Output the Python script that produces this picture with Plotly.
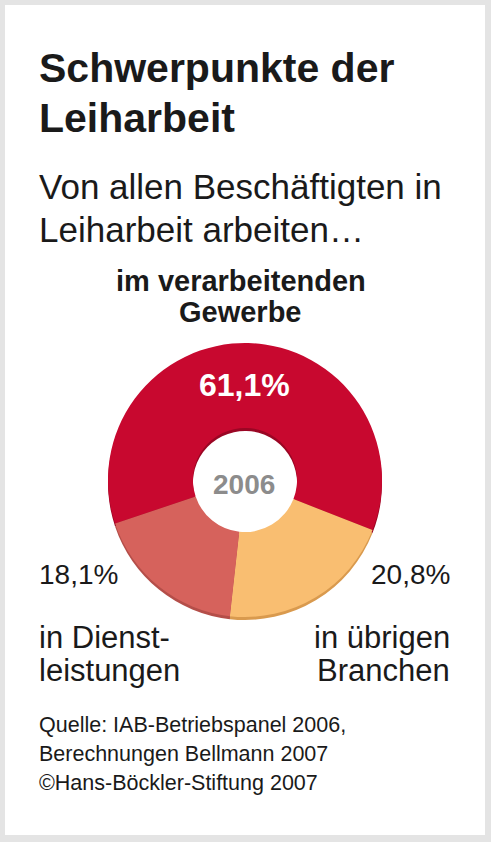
import plotly.graph_objects as go

# data
categories = ["im verarbeitenden Gewerbe", "in übrigen Branchen", "in Dienstleistungen"]
shares = [61.1, 20.8, 18.1]
year = "2006"

colors = ["#C8082F", "#F9BE71", "#D6625C"]
rim_colors = ["#9A0624", "#D99A4E", "#B44E49"]

W, H = 491, 842
FONT = "Liberation Sans, Arial, sans-serif"


def fmt(v):
    return f"{v:.1f}".replace(".", ",") + "%"


def px_x(x):
    return x / W


def base_y(baseline, size):
    # annotation box bottom sits under the baseline by the descent + pad
    return 1 - (baseline + 0.212 * size + 1) / H


# pie geometry (pixels)
cx, cy, r = 245, 480, 137
dom_x = [px_x(cx - r), px_x(cx + r)]
dom_y = [1 - (cy + r) / H, 1 - (cy - r) / H]
shift = 3 / H

fig = go.Figure()

# darker copy slightly lower, gives the flat 3d edge
fig.add_trace(
    go.Pie(
        labels=categories,
        values=shares,
        sort=False,
        direction="clockwise",
        rotation=251.5,
        hole=0.38,
        textinfo="none",
        hoverinfo="skip",
        marker=dict(colors=rim_colors, line=dict(width=0)),
        domain=dict(x=dom_x, y=[dom_y[0] - shift, dom_y[1] - shift]),
        showlegend=False,
    )
)
fig.add_trace(
    go.Pie(
        labels=categories,
        values=shares,
        sort=False,
        direction="clockwise",
        rotation=251.5,
        hole=0.38,
        textinfo="none",
        hovertemplate="%{label}: %{value}%<extra></extra>",
        marker=dict(colors=colors, line=dict(width=0)),
        domain=dict(x=dom_x, y=dom_y),
        showlegend=False,
    )
)

annotations = []


def add_text(text, x, baseline, size, anchor="left", bold=False, color="#1a1a1a"):
    annotations.append(
        dict(
            text=f"<b>{text}</b>" if bold else text,
            x=px_x(x),
            y=base_y(baseline, size),
            xref="paper",
            yref="paper",
            xanchor=anchor,
            yanchor="bottom",
            showarrow=False,
            font=dict(family=FONT, size=size, color=color),
        )
    )


# title and subtitle
add_text("Schwerpunkte der", 37, 83, 41, bold=True)
add_text("Leiharbeit", 37, 133, 41, bold=True)
add_text("Von allen Beschäftigten in", 37, 200, 35)
add_text("Leiharbeit arbeiten…", 37, 243, 35)

# slice labels
add_text("im verarbeitenden", 240.5, 292, 29, anchor="center", bold=True)
add_text("Gewerbe", 240.5, 323, 29, anchor="center", bold=True)
add_text(fmt(shares[0]), 244, 397, 32, anchor="center", bold=True, color="#ffffff")
add_text(year, 244, 495, 28, anchor="center", bold=True, color="#8c8c8c")

add_text(fmt(shares[2]), 37, 585, 28)
add_text("in Dienst-", 37, 649, 31)
add_text("leistungen", 37, 682, 31)

add_text(fmt(shares[1]), 452, 585, 28, anchor="right")
add_text("in übrigen", 452, 649, 31, anchor="right")
add_text("Branchen", 452, 682, 31, anchor="right")

# source
add_text("Quelle: IAB-Betriebspanel 2006,", 37, 733, 21.5)
add_text("Berechnungen Bellmann 2007", 37, 762, 21.5)
add_text("©Hans-Böckler-Stiftung 2007", 37, 791, 21.5)

fig.update_layout(
    width=W,
    height=H,
    margin=dict(l=0, r=0, t=0, b=0),
    paper_bgcolor="#E4E4E4",
    plot_bgcolor="#ffffff",
    annotations=annotations,
    shapes=[
        dict(
            type="rect",
            xref="paper",
            yref="paper",
            x0=5 / W,
            x1=485 / W,
            y0=1 - 835 / H,
            y1=1 - 5 / H,
            fillcolor="#ffffff",
            line=dict(width=0),
            layer="below",
        )
    ],
)

# drop the browser's default body margin so the figure fills the window
fig.write_html(
    "out.html",
    config={"displayModeBar": False},
    post_script="document.body.style.margin='0';",
)
